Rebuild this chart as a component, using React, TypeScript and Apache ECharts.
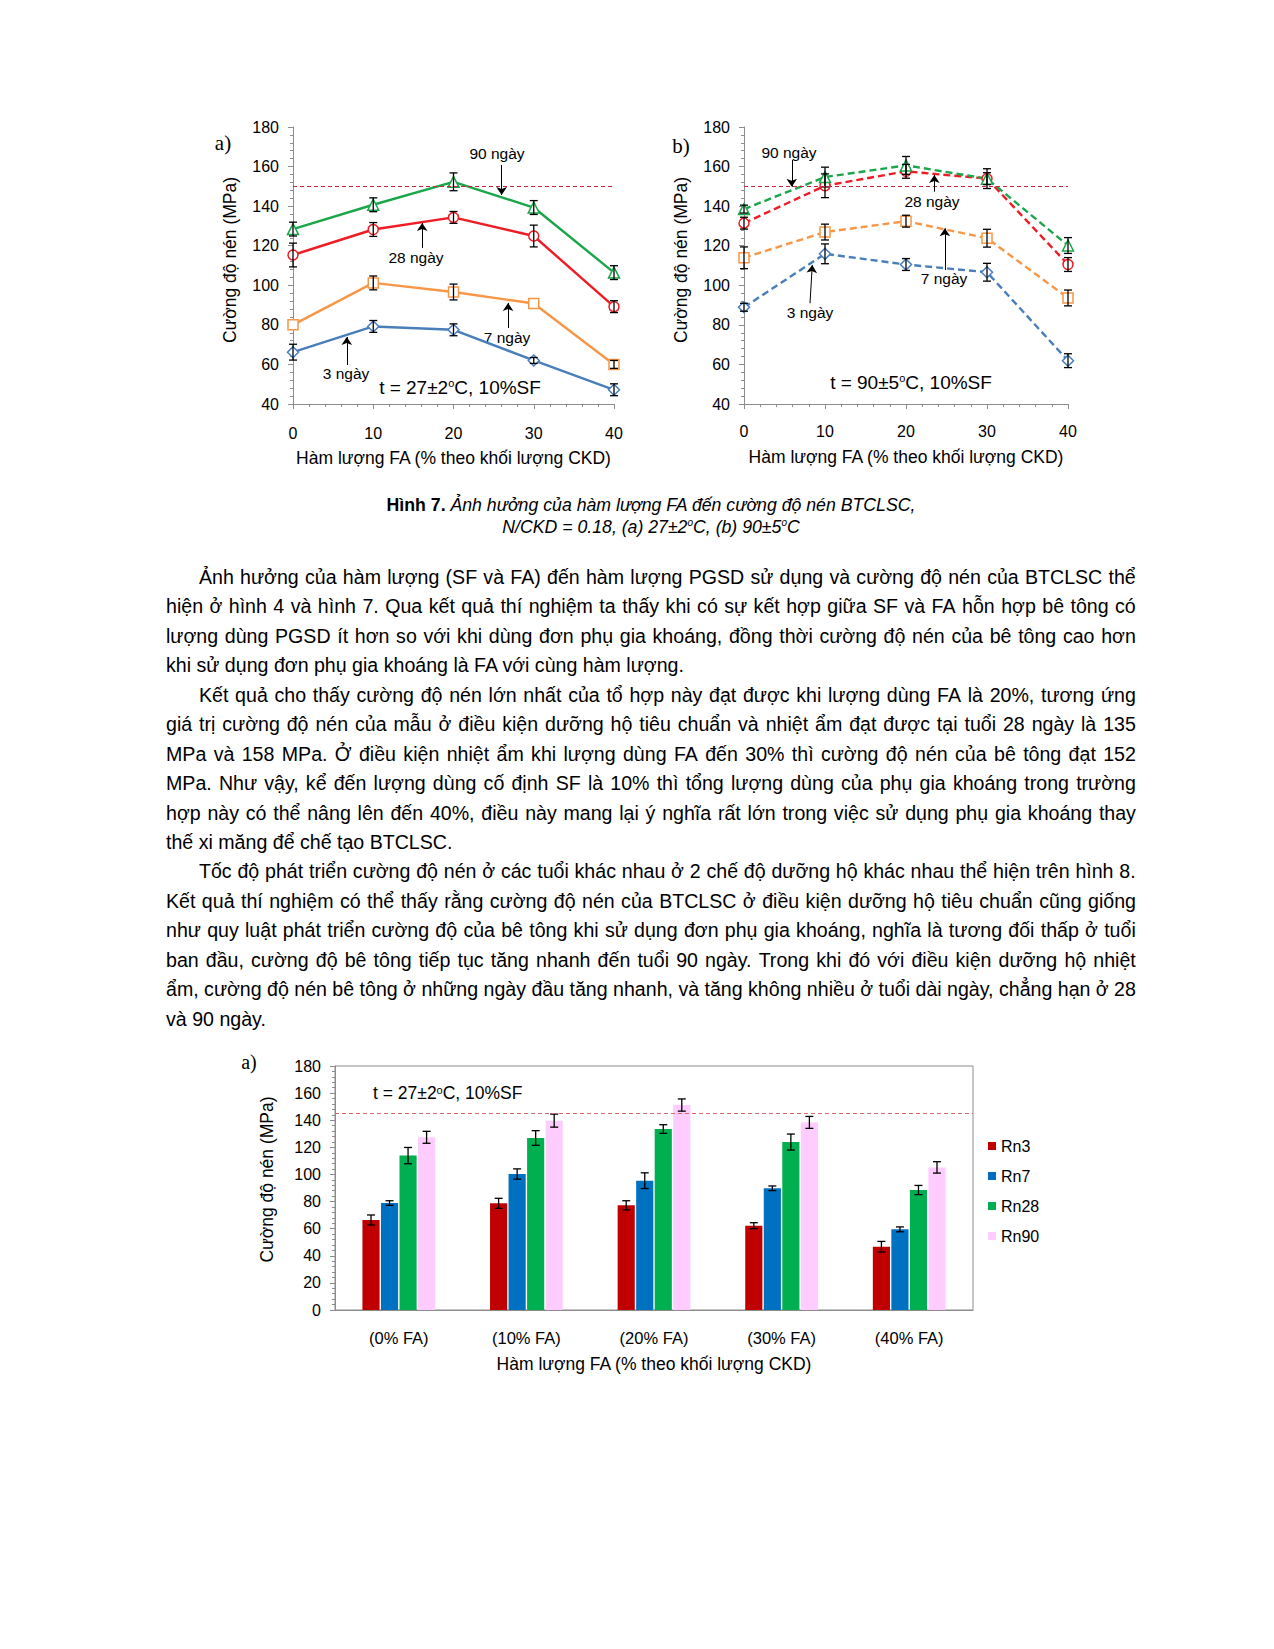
import React, { useEffect, useRef } from "react";
import * as echarts from "echarts";

// ---------- data ----------
const faLevels = [0, 10, 20, 30, 40];
const ageNames = ["3 ngày", "7 ngày", "28 ngày", "90 ngày"];

// Chart a: t = 27±2°C
const a3 = [66.2, 79.2, 77.5, 62.0, 47.2];
const a3err = [4, 3, 3, 1.5, 3];
const a7 = [80.0, 101.2, 96.6, 90.8, 60.0];
const a7err = [0, 3.5, 4, 0, 2];
const a28 = [115.3, 128.2, 134.3, 124.9, 89.2];
const a28err = [6, 3.5, 3, 5.5, 3];
const a90 = [128.4, 140.7, 152.3, 139.3, 106.4];
const a90err = [3.5, 3.5, 4.5, 3.5, 3.5];

// Chart b: t = 90±5°C
const b3 = [88.9, 115.9, 110.5, 106.6, 61.9];
const b3err = [2, 5, 3, 4.5, 3.5];
const b7 = [113.9, 126.9, 132.4, 123.8, 93.6];
const b7err = [5.5, 4, 3, 4.5, 4];
const b28 = [131.4, 150.3, 157.6, 153.9, 110.5];
const b28err = [3, 6, 3.5, 3, 3.5];
const b90 = [138.5, 154.7, 160.6, 153.9, 120.1];
const b90err = [2, 5, 4.5, 5, 4];

// Bar chart
const barCategories = ["(0% FA)", "(10% FA)", "(20% FA)", "(30% FA)", "(40% FA)"];
const barNames = ["Rn3", "Rn7", "Rn28", "Rn90"];
const rn3 = [66.4, 78.7, 77.2, 62.2, 46.7];
const rn3err = [3.7, 3.7, 3.4, 2.2, 3.9];
const rn7 = [78.9, 100.3, 95.4, 89.8, 59.5];
const rn7err = [1.7, 3.8, 5.8, 1.7, 1.8];
const rn28 = [113.9, 126.9, 133.5, 123.9, 88.5];
const rn28err = [6, 5.4, 3.2, 5.9, 3.4];
const rn90 = [127.4, 139.7, 151.2, 138.4, 105.2];
const rn90err = [4.4, 4.8, 4.5, 4.4, 4.2];

const refLineLines = 150;
const refLineBars = 145;

// arrow annotations (data coordinates: [x, yFrom, xTo, yTo])
const arrowsA = [
  [26.0, 160.8, 26.0, 145.6],
  [16.1, 118.9, 16.1, 131.5],
  [26.8, 78.4, 26.8, 91.1],
  [6.7, 59.7, 6.7, 73.9],
];
const arrowsB = [
  [5.9, 163.3, 5.9, 149.8],
  [23.5, 147.3, 23.5, 155.7],
  [24.8, 107.7, 24.8, 128.8],
  [8.15, 90.9, 8.43, 110.3],
];

const xTitle = "Hàm lượng FA (% theo khối lượng CKD)";
const yTitle = "Cường độ nén (MPa)";

const paraLines = [
  "Ảnh hưởng của hàm lượng (SF và FA) đến hàm lượng PGSD sử dụng và cường độ nén của BTCLSC thể",
  "hiện ở hình 4 và hình 7. Qua kết quả thí nghiệm ta thấy khi có sự kết hợp giữa SF và FA hỗn hợp bê tông có",
  "lượng dùng PGSD ít hơn so với khi dùng đơn phụ gia khoáng, đồng thời cường độ nén của bê tông cao hơn",
  "khi sử dụng đơn phụ gia khoáng là FA với cùng hàm lượng.",
  "Kết quả cho thấy cường độ nén lớn nhất của tổ hợp này đạt được khi lượng dùng FA là 20%, tương ứng",
  "giá trị cường độ nén của mẫu ở điều kiện dưỡng hộ tiêu chuẩn và nhiệt ẩm đạt được tại tuổi 28 ngày là 135",
  "MPa và 158 MPa. Ở điều kiện nhiệt ẩm khi lượng dùng FA đến 30% thì cường độ nén của bê tông đạt 152",
  "MPa. Như vậy, kể đến lượng dùng cố định SF là 10% thì tổng lượng dùng của phụ gia khoáng trong trường",
  "hợp này có thể nâng lên đến 40%, điều này mang lại ý nghĩa rất lớn trong việc sử dụng phụ gia khoáng thay",
  "thế xi măng để chế tạo BTCLSC.",
  "Tốc độ phát triển cường độ nén ở các tuổi khác nhau ở 2 chế độ dưỡng hộ khác nhau thể hiện trên hình 8.",
  "Kết quả thí nghiệm có thể thấy rằng cường độ nén của BTCLSC ở điều kiện dưỡng hộ tiêu chuẩn cũng giống",
  "như quy luật phát triển cường độ của bê tông khi sử dụng đơn phụ gia khoáng, nghĩa là tương đối thấp ở tuổi",
  "ban đầu, cường độ bê tông tiếp tục tăng nhanh đến tuổi 90 ngày. Trong khi đó với điều kiện dưỡng hộ nhiệt",
  "ẩm, cường độ nén bê tông ở những ngày đầu tăng nhanh, và tăng không nhiều ở tuổi dài ngày, chẳng hạn ở 28",
  "và 90 ngày.",
];
const indentLines = [0, 4, 10];
const lastLines = [3, 9, 15];

// ---------- styles ----------
const SANS = 'Arial, "Liberation Sans", sans-serif';
const SERIF = '"Times New Roman", "Liberation Serif", serif';
const AXIS_GREY = "#8c8c8c";
const C_BLUE = "#4a7ebb";
const C_ORANGE = "#f79646";
const C_RED = "#ee1c25";
const C_GREEN = "#1aa64a";
const BAR_COLORS = ["#c00000", "#0070c0", "#00b050", "#ffccff"];

function valueAxis(gridIndex: number, min: number, max: number, interval: number, extra: any) {
  return {
    type: "value",
    gridIndex,
    min,
    max,
    interval,
    axisLine: { show: true, onZero: false, lineStyle: { color: AXIS_GREY, width: 1 } },
    axisTick: { show: true, length: 5, lineStyle: { color: AXIS_GREY } },
    minorTick: { show: true, splitNumber: 5, length: 3, lineStyle: { color: AXIS_GREY } },
    splitLine: { show: false },
    axisLabel: { color: "#000", fontSize: 16, fontFamily: SANS },
    nameLocation: "middle",
    nameTextStyle: { color: "#000", fontSize: 17.5, fontFamily: SANS },
    ...extra,
  };
}

function errorRenderLine(params: any, api: any) {
  const x = api.value(0);
  const lo = api.value(1);
  const hi = api.value(2);
  if (hi - lo < 0.01) return null;
  const p1 = api.coord([x, lo]);
  const p2 = api.coord([x, hi]);
  const c = 4;
  const st = { stroke: "#000", lineWidth: 1.3 };
  return {
    type: "group",
    children: [
      { type: "line", shape: { x1: p1[0], y1: p1[1], x2: p2[0], y2: p2[1] }, style: st },
      { type: "line", shape: { x1: p1[0] - c, y1: p1[1], x2: p1[0] + c, y2: p1[1] }, style: st },
      { type: "line", shape: { x1: p2[0] - c, y1: p2[1], x2: p2[0] + c, y2: p2[1] }, style: st },
    ],
  };
}

function errorRenderBar(params: any, api: any) {
  const idx = api.value(0);
  const lo = api.value(1);
  const hi = api.value(2);
  const k = api.value(3);
  const band = api.size([1, 0])[0];
  const bw = (band * 0.57) / (4 + 3 * 0.08);
  const off = (k - 1.5) * bw * 1.08;
  const p1 = api.coord([idx, lo]);
  const p2 = api.coord([idx, hi]);
  const x = p1[0] + off;
  const c = 4;
  const st = { stroke: "#000", lineWidth: 1.3 };
  return {
    type: "group",
    children: [
      { type: "line", shape: { x1: x, y1: p1[1], x2: x, y2: p2[1] }, style: st },
      { type: "line", shape: { x1: x - c, y1: p1[1], x2: x + c, y2: p1[1] }, style: st },
      { type: "line", shape: { x1: x - c, y1: p2[1], x2: x + c, y2: p2[1] }, style: st },
    ],
  };
}

function lineSeries(name: string, vals: number[], color: string, symbol: string, size: number, dashed: boolean, gi: number, extra: any = {}) {
  return {
    type: "line",
    name,
    xAxisIndex: gi,
    yAxisIndex: gi,
    data: faLevels.map((x, i) => [x, vals[i]]),
    symbol,
    symbolSize: size,
    showSymbol: true,
    lineStyle: { color, width: 2.4, type: dashed ? [7, 4] : "solid" },
    itemStyle: { color: "#fff", borderColor: color, borderWidth: 1.5 },
    z: 3,
    ...extra,
  };
}

function errSeries(vals: number[], errs: number[], gi: number) {
  return {
    type: "custom",
    xAxisIndex: gi,
    yAxisIndex: gi,
    renderItem: errorRenderLine,
    data: faLevels.map((x, i) => [x, vals[i] - errs[i], vals[i] + errs[i]]),
    encode: { x: 0, y: [1, 2] },
    z: 4,
    silent: true,
  };
}

function markers(arrows: number[][]) {
  return {
    silent: true,
    symbol: ["none", "none"],
    label: { show: false },
    data: [
      { yAxis: refLineLines, lineStyle: { color: "#c8243c", type: [4, 3], width: 1 } },
      ...arrows.map((a) => [
        { coord: [a[0], a[1]], symbol: "none", lineStyle: { color: "#000", width: 1, type: "solid" } },
        { coord: [a[2], a[3]], symbol: "arrow", symbolSize: 8 },
      ]),
    ],
  };
}

function richT(text1: string, text2: string, size: number) {
  return {
    text: `{n|${text1}}{s|o}{n|${text2}}`,
    rich: {
      n: { fontSize: size, fontFamily: SANS, fill: "#000", color: "#000" },
      s: { fontSize: Math.round(size * 0.6), fontFamily: SANS, fill: "#000", color: "#000", verticalAlign: "top" },
    },
  };
}

function gText(x: number, y: number, text: string, size: number, family = SANS, align = "center") {
  return {
    type: "text",
    x,
    y,
    silent: true,
    style: { text, fontSize: size, fontFamily: family, fill: "#000", align, verticalAlign: "middle" },
  };
}

function buildOption() {
  return {
    animation: false,
    backgroundColor: "#fff",
    grid: [
      { left: 293, top: 127, width: 321, height: 277 },
      { left: 744, top: 127, width: 324, height: 277 },
      { left: 335, top: 1066, width: 638, height: 244, show: true, borderColor: AXIS_GREY, borderWidth: 1, backgroundColor: "transparent" },
    ],
    legend: {
      data: barNames,
      orient: "vertical",
      left: 983,
      top: 1133,
      itemWidth: 8,
      itemHeight: 8,
      itemGap: 14,
      icon: "rect",
      textStyle: { fontSize: 16, fontFamily: SANS, color: "#000", lineHeight: 16 },
      selectedMode: false,
    },
    xAxis: [
      valueAxis(0, 0, 40, 10, { name: xTitle, nameGap: 45, axisLabel: { color: "#000", fontSize: 16, fontFamily: SANS, margin: 21 } }),
      valueAxis(1, 0, 40, 10, { name: xTitle, nameGap: 44, axisLabel: { color: "#000", fontSize: 16, fontFamily: SANS, margin: 19 } }),
      {
        type: "category",
        gridIndex: 2,
        data: barCategories,
        axisLine: { show: true, lineStyle: { color: AXIS_GREY, width: 1 } },
        axisTick: { show: false },
        axisLabel: { color: "#000", fontSize: 16.5, fontFamily: SANS, margin: 19 },
        name: xTitle,
        nameLocation: "middle",
        nameGap: 45,
        nameTextStyle: { color: "#000", fontSize: 17.5, fontFamily: SANS },
      },
    ],
    yAxis: [
      valueAxis(0, 40, 180, 20, {
        name: yTitle,
        nameGap: 54,
        nameTextStyle: { color: "#000", fontSize: 17.5, fontFamily: SANS, padding: [0, 0, 0, 11] },
        axisLabel: { color: "#000", fontSize: 16, fontFamily: SANS, margin: 14 },
      }),
      valueAxis(1, 40, 180, 20, {
        name: yTitle,
        nameGap: 54,
        nameTextStyle: { color: "#000", fontSize: 17.5, fontFamily: SANS, padding: [0, 0, 0, 11] },
        axisLabel: { color: "#000", fontSize: 16, fontFamily: SANS, margin: 14 },
      }),
      valueAxis(2, 0, 180, 20, {
        name: yTitle,
        nameGap: 59,
        nameTextStyle: { color: "#000", fontSize: 17.5, fontFamily: SANS, padding: [0, 0, 0, 17] },
        axisLabel: { color: "#000", fontSize: 16, fontFamily: SANS, margin: 14 },
      }),
    ],
    series: [
      // chart a
      lineSeries(ageNames[0], a3, C_BLUE, "diamond", 11, false, 0, { markLine: markers(arrowsA) }),
      lineSeries(ageNames[1], a7, C_ORANGE, "rect", 10, false, 0),
      lineSeries(ageNames[2], a28, C_RED, "circle", 10, false, 0),
      lineSeries(ageNames[3], a90, C_GREEN, "triangle", 11, false, 0),
      errSeries(a3, a3err, 0),
      errSeries(a7, a7err, 0),
      errSeries(a28, a28err, 0),
      errSeries(a90, a90err, 0),
      // chart b
      lineSeries(ageNames[0], b3, C_BLUE, "diamond", 11, true, 1, { markLine: markers(arrowsB) }),
      lineSeries(ageNames[1], b7, C_ORANGE, "rect", 10, true, 1),
      lineSeries(ageNames[2], b28, C_RED, "circle", 10, true, 1),
      lineSeries(ageNames[3], b90, C_GREEN, "triangle", 11, true, 1),
      errSeries(b3, b3err, 1),
      errSeries(b7, b7err, 1),
      errSeries(b28, b28err, 1),
      errSeries(b90, b90err, 1),
      // bar chart
      ...[rn3, rn7, rn28, rn90].map((vals, k) => ({
        type: "bar",
        name: barNames[k],
        xAxisIndex: 2,
        yAxisIndex: 2,
        data: vals,
        barCategoryGap: "43%",
        barGap: "8%",
        itemStyle: { color: BAR_COLORS[k] },
        z: 2,
        ...(k === 0
          ? {
              markLine: {
                silent: true,
                symbol: ["none", "none"],
                label: { show: false },
                data: [{ yAxis: refLineBars, lineStyle: { color: "#d66a6a", type: [4, 3], width: 1 } }],
              },
            }
          : {}),
      })),
      ...[
        [rn3, rn3err],
        [rn7, rn7err],
        [rn28, rn28err],
        [rn90, rn90err],
      ].map(([vals, errs], k) => ({
        type: "custom",
        xAxisIndex: 2,
        yAxisIndex: 2,
        renderItem: errorRenderBar,
        data: barCategories.map((_, i) => [i, vals[i] - errs[i], vals[i] + errs[i], k]),
        encode: { x: 0, y: [1, 2] },
        z: 4,
        silent: true,
      })),
    ],
    graphic: [
      gText(223, 143, "a)", 21, SERIF),
      gText(681, 146, "b)", 21, SERIF),
      gText(249, 1062, "a)", 20, SERIF),
      gText(497, 153, ageNames[3], 15.5),
      gText(416, 257, ageNames[2], 15.5),
      gText(507, 337, ageNames[1], 15.5),
      gText(346, 373, ageNames[0], 15.5),
      gText(789, 152, ageNames[3], 15.5),
      gText(932, 201, ageNames[2], 15.5),
      gText(944, 278, ageNames[1], 15.5),
      gText(810, 312, ageNames[0], 15.5),
      {
        type: "text",
        x: 460,
        y: 387,
        silent: true,
        style: { ...richT("t = 27±2", "C, 10%SF", 19), align: "center", verticalAlign: "middle" },
      },
      {
        type: "text",
        x: 911,
        y: 382,
        silent: true,
        style: { ...richT("t = 90±5", "C, 10%SF", 19), align: "center", verticalAlign: "middle" },
      },
      {
        type: "text",
        x: 373,
        y: 1093,
        silent: true,
        style: { ...richT("t = 27±2", "C, 10%SF", 17.5), align: "left", verticalAlign: "middle" },
      },
    ],
  };
}

function Paragraphs() {
  return (
    <div
      style={{
        position: "absolute",
        left: 166,
        top: 563,
        width: 970,
        fontFamily: SANS,
        fontSize: 19.6,
        lineHeight: "29.45px",
        color: "#000",
      }}
    >
      {paraLines.map((t, i) => {
        const indent = indentLines.includes(i) ? 33 : 0;
        if (lastLines.includes(i)) {
          return (
            <div key={i} style={{ height: 29.45, paddingLeft: indent, whiteSpace: "pre" }}>
              {t}
            </div>
          );
        }
        const words = t.split(" ");
        return (
          <div
            key={i}
            style={{
              height: 29.45,
              paddingLeft: indent,
              display: "flex",
              justifyContent: "space-between",
              columnGap: 2,
              whiteSpace: "nowrap",
            }}
          >
            {words.map((w, j) => (
              <span key={j}>{w}</span>
            ))}
          </div>
        );
      })}
    </div>
  );
}

function Caption() {
  const supStyle: any = { fontSize: 10, lineHeight: 0 };
  return (
    <div
      style={{
        position: "absolute",
        left: 0,
        top: 494,
        width: 1302,
        textAlign: "center",
        fontFamily: SANS,
        fontSize: 17.7,
        lineHeight: "22px",
        color: "#000",
      }}
    >
      <div style={{ height: 22 }}>
        <b>Hình 7.</b> <i>Ảnh hưởng của hàm lượng FA đến cường độ nén BTCLSC,</i>
      </div>
      <div style={{ height: 22 }}>
        <i>
          N/CKD = 0.18, (a) 27±2<sup style={supStyle}>o</sup>C, (b) 90±5<sup style={supStyle}>o</sup>C
        </i>
      </div>
    </div>
  );
}

export default function App() {
  const ref = useRef<HTMLDivElement>(null);
  useEffect(() => {
    if (!ref.current) return;
    const chart = echarts.init(ref.current, undefined, { renderer: "svg" });
    chart.setOption(buildOption() as any);
    return () => chart.dispose();
  }, []);
  return (
    <div style={{ position: "absolute", left: 0, top: 0, width: 1274, height: 1649, overflow: "hidden", background: "#fff" }}>
      <div ref={ref} style={{ position: "absolute", left: 0, top: 0, width: 1274, height: 1649 }} />
      <Caption />
      <Paragraphs />
    </div>
  );
}
